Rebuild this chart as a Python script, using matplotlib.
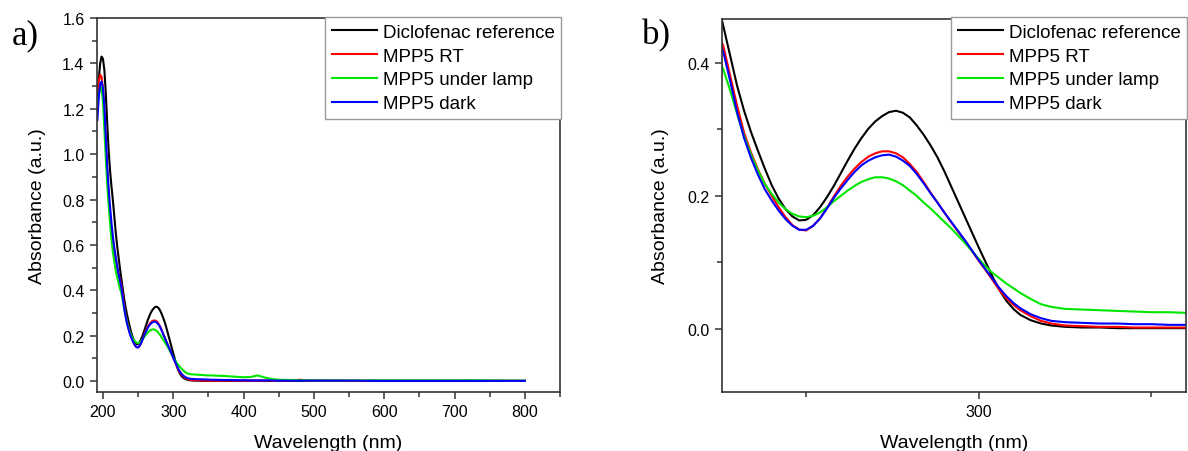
import matplotlib
matplotlib.use('Agg')
from matplotlib import pyplot as plt
from matplotlib.ticker import MultipleLocator

plt.rcParams['font.family'] = ['Liberation Sans', 'DejaVu Sans']

# wavelength grid (nm): 2 nm steps through the bands, coarser in the flat tail
wavelength = (list(range(192, 313, 2))
              + [315, 318, 321, 325, 330, 335, 340, 345, 350, 355, 360]
              + list(range(370, 501, 10))
              + [550, 600, 650, 700, 720, 740, 800])

diclofenac = [1.26, 1.33, 1.40, 1.43, 1.42, 1.37, 1.27, 1.14, 1.02, 0.93, 0.86, 0.80, 0.73, 0.66, 0.60, 0.55, 0.50,
              0.455, 0.41, 0.365, 0.328, 0.296, 0.268, 0.241, 0.216, 0.196, 0.18,
              0.169, 0.163, 0.164, 0.171, 0.183, 0.198, 0.215, 0.234, 0.253, 0.271,
              0.287, 0.301, 0.312, 0.32, 0.326, 0.328, 0.325, 0.318, 0.306, 0.292,
              0.276, 0.258, 0.237, 0.214, 0.191, 0.168, 0.145, 0.122, 0.1, 0.078,
              0.058, 0.042, 0.03, 0.021,
              0.013, 0.008, 0.005, 0.003, 0.002, 0.002, 0.001, 0.001, 0.001, 0.001, 0.001,
              0.001, 0.001, 0.001, 0.001, 0.001, 0.001, 0.001, 0.001, 0.001, 0.001, 0.001, 0.001, 0.001, 0.001,
              0.001, 0.001, 0.001, 0.001, 0.001, 0.001, 0.001]

mpp5_rt = [1.27, 1.32, 1.35, 1.34, 1.29, 1.19, 1.05, 0.92, 0.82, 0.74, 0.67, 0.62, 0.58, 0.54, 0.505, 0.475, 0.45,
           0.425, 0.38, 0.335, 0.295, 0.265, 0.24, 0.218, 0.2, 0.183, 0.168,
           0.156, 0.149, 0.148, 0.155, 0.166, 0.182, 0.199, 0.215, 0.229, 0.241,
           0.251, 0.259, 0.264, 0.267, 0.267, 0.264, 0.258, 0.248, 0.236, 0.221,
           0.205, 0.19, 0.175, 0.16, 0.146, 0.132, 0.117, 0.102, 0.088, 0.073,
           0.058, 0.046, 0.036, 0.028,
           0.019, 0.012, 0.008, 0.005, 0.004, 0.003, 0.003, 0.002, 0.002, 0.002, 0.002,
           0.002, 0.002, 0.002, 0.002, 0.002, 0.002, 0.002, 0.002, 0.002, 0.002, 0.003, 0.006, 0.003, 0.002,
           0.001, 0.001, 0.001, 0.001, 0.001, 0.001, 0.001]

mpp5_lamp = [1.22, 1.26, 1.295, 1.29, 1.23, 1.11, 0.98, 0.87, 0.78, 0.70, 0.625, 0.57, 0.53, 0.49, 0.46, 0.435, 0.41,
             0.39, 0.358, 0.323, 0.29, 0.262, 0.238, 0.218, 0.203, 0.19, 0.18,
             0.173, 0.169, 0.168, 0.17, 0.175, 0.183, 0.192, 0.2, 0.208, 0.215,
             0.221, 0.225, 0.228, 0.228, 0.226, 0.222, 0.216, 0.208, 0.2, 0.19,
             0.181, 0.171, 0.161, 0.151, 0.14, 0.129, 0.117, 0.105, 0.094, 0.084,
             0.076, 0.068, 0.061, 0.054,
             0.045, 0.037, 0.033, 0.03, 0.029, 0.028, 0.027, 0.026, 0.025, 0.025, 0.024,
             0.023, 0.021, 0.019, 0.017, 0.018, 0.025, 0.016, 0.009, 0.006, 0.005, 0.005, 0.004, 0.004, 0.003,
             0.003, 0.003, 0.003, 0.003, 0.004, 0.003, 0.002]

mpp5_dark = [1.15, 1.25, 1.31, 1.32, 1.29, 1.21, 1.08, 0.95, 0.85, 0.77, 0.70, 0.64, 0.59, 0.55, 0.51, 0.475, 0.445,
             0.416, 0.372, 0.325, 0.287, 0.257, 0.232, 0.21, 0.193, 0.178, 0.165,
             0.155, 0.149, 0.149, 0.155, 0.166, 0.181, 0.197, 0.211, 0.224, 0.236,
             0.246, 0.253, 0.258, 0.261, 0.262, 0.259, 0.253, 0.245, 0.233, 0.219,
             0.204, 0.19, 0.175, 0.161, 0.147, 0.133, 0.118, 0.103, 0.089, 0.075,
             0.061, 0.049, 0.039, 0.031,
             0.022, 0.016, 0.012, 0.01, 0.009, 0.008, 0.008, 0.007, 0.007, 0.006, 0.006,
             0.005, 0.005, 0.004, 0.004, 0.003, 0.003, 0.003, 0.003, 0.002, 0.002, 0.002, 0.002, 0.002, 0.002,
             0.002, 0.001, 0.001, 0.001, 0.001, 0.001, 0.001]

series = [diclofenac, mpp5_rt, mpp5_lamp, mpp5_dark]
labels = ['Diclofenac reference', 'MPP5 RT', 'MPP5 under lamp', 'MPP5 dark']
colors = ['#000000', '#ff0000', '#00e600', '#0000ff']

W, H = 1188, 452
spine_col = '#333333'


def draw_panel(ax, xlim, ylim, xmaj, ymaj, legend_anchor, ylab_x):
    for y, lab, c in zip(series, labels, colors):
        ax.plot(wavelength, y, color=c, lw=1.5, label=lab)
    ax.set_xlim(*xlim)
    ax.set_ylim(*ylim)
    ax.xaxis.set_major_locator(MultipleLocator(xmaj))
    ax.xaxis.set_minor_locator(MultipleLocator(xmaj / 2))
    ax.yaxis.set_major_locator(MultipleLocator(ymaj))
    ax.yaxis.set_minor_locator(MultipleLocator(ymaj / 2))
    ax.yaxis.set_major_formatter(matplotlib.ticker.FormatStrFormatter('%.1f'))
    for s in ax.spines.values():
        s.set_color(spine_col)
        s.set_linewidth(1.2)
    ax.tick_params(which='both', direction='out', top=False, right=False,
                   color=spine_col, width=1.1, labelsize=11.5, pad=4)
    ax.tick_params(which='major', length=5)
    ax.tick_params(which='minor', length=3.5)
    ax.set_xlabel('Wavelength (nm)', fontsize=14)
    ax.set_ylabel('Absorbance (a.u.)', fontsize=14)
    ax.xaxis.set_label_coords(0.5, -0.113)
    ax.yaxis.set_label_coords(ylab_x, 0.5)
    leg = ax.legend(loc='upper right', bbox_to_anchor=legend_anchor,
                    bbox_transform=fig.transFigure, borderaxespad=0,
                    fontsize=13.5, handlelength=2.4, handletextpad=0.3,
                    labelspacing=0.36, borderpad=0.35, fancybox=False,
                    framealpha=1, edgecolor='#999999')
    leg.get_frame().set_linewidth(1.0)


fig = plt.figure(figsize=(W / 100, H / 100), dpi=100)
ax_a = fig.add_axes([97 / W, 59 / H, 463 / W, 374 / H])
ax_b = fig.add_axes([722 / W, 59 / H, 464 / W, 373 / H])

draw_panel(ax_a, (191.5, 850), (-0.048, 1.6), 100, 0.2, (561 / W, 1 - 18 / H), -0.110)
draw_panel(ax_b, (225.6, 360), (-0.095, 0.466), 100, 0.2, (1187 / W, 1 - 18 / H), -0.114)

fig.text(12 / W, 1 - 44 / H, 'a)', fontsize=25, family='Liberation Serif', va='baseline')
fig.text(642 / W, 1 - 44 / H, 'b)', fontsize=25, family='Liberation Serif', va='baseline')

fig.savefig('out.png', dpi=100)
